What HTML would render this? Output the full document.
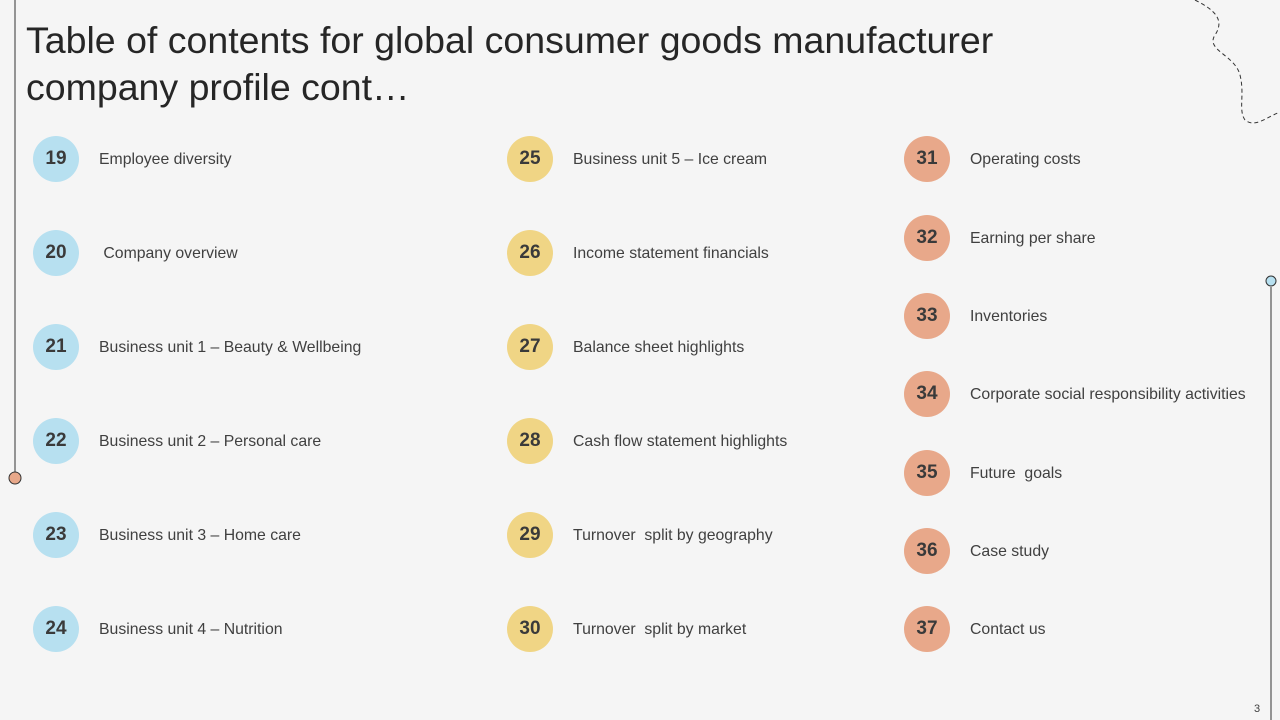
<!DOCTYPE html>
<html><head><meta charset="utf-8"><style>
body{margin:0;width:1280px;height:720px;background:#f5f5f5;overflow:hidden;position:relative;font-family:"Liberation Sans",sans-serif}
.t{position:absolute;left:26px;top:17px;font-size:37.5px;line-height:47px;color:#262626}
.c{position:absolute;width:46px;height:46px;border-radius:50%;text-align:center;line-height:46px;font-weight:bold;font-size:19px;color:#3a3a3a}
.l{position:absolute;font-size:16px;color:#404040;line-height:20px}
.b{background:#b7e0f0}.y{background:#f0d585}.o{background:#e8a88a}
</style></head><body>
<div class="t">Table of contents for global consumer goods manufacturer<br>company profile cont…</div>
<svg style="position:absolute;left:0;top:0" width="1280" height="720">
<line x1="15" y1="0" x2="15" y2="472" stroke="#333" stroke-width="1"/>
<circle cx="15" cy="478" r="6" fill="#e8a88a" stroke="#333"/>
<line x1="1271" y1="287" x2="1271" y2="720" stroke="#333" stroke-width="1"/>
<circle cx="1271" cy="281" r="5" fill="#b7e0f0" stroke="#333"/>
<path d="M1195 0 C1215 10,1225 20,1215 35 C1205 50,1235 55,1240 75 C1245 95,1238 110,1245 120 C1255 128,1265 118,1280 112" fill="none" stroke="#333" stroke-dasharray="4,3"/>
</svg>
<div id="items"></div>
<div class="l" style="left:1254px;top:699px;font-size:11px">3</div>
<script>
const cols=[
 {x:33,cls:'b',tx:99,ys:[158,252,346,440,534,628],items:[[19,'Employee diversity'],[20,'&nbsp;Company overview'],[21,'Business unit 1 – Beauty &amp; Wellbeing'],[22,'Business unit 2 – Personal care'],[23,'Business unit 3 – Home care'],[24,'Business unit 4 – Nutrition']]},
 {x:507,cls:'y',tx:573,ys:[158,252,346,440,534,628],items:[[25,'Business unit 5 – Ice cream'],[26,'Income statement financials'],[27,'Balance sheet highlights'],[28,'Cash flow statement highlights'],[29,'Turnover&nbsp; split by geography'],[30,'Turnover&nbsp; split by market']]},
 {x:904,cls:'o',tx:970,ys:[158,237,315,393,472,550,628],items:[[31,'Operating costs'],[32,'Earning per share'],[33,'Inventories'],[34,'Corporate social responsibility activities'],[35,'Future&nbsp; goals'],[36,'Case study'],[37,'Contact us']]}
];
let h='';
cols.forEach(c=>c.items.forEach((it,i)=>{const y=c.ys[i];
h+=`<div class="c ${c.cls}" style="left:${c.x}px;top:${y-22}px">${it[0]}</div><div class="l" style="left:${c.tx}px;top:${y-8}px;font-size:15.8px">${it[1]}</div>`;}));
document.getElementById('items').innerHTML=h;
</script>
</body></html>
